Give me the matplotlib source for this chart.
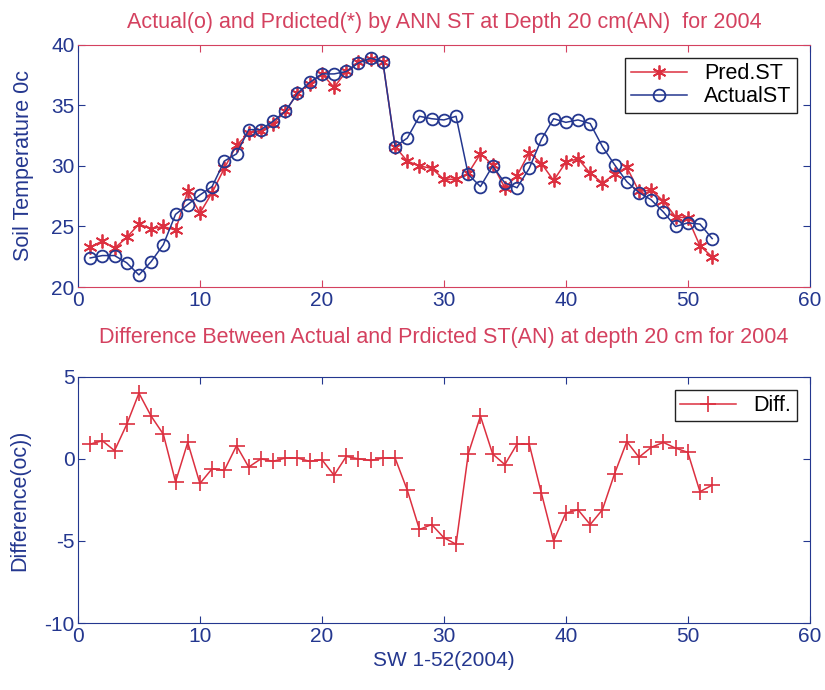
import numpy as np
import matplotlib
matplotlib.use("Agg")
import matplotlib.pyplot as plt

plt.rcParams['font.family'] = ['Liberation Sans', 'DejaVu Sans']
plt.rcParams['axes.unicode_minus'] = False

# standard weeks 1-52
weeks = np.arange(1, 53)

actual_st = [22.4, 22.6, 22.6, 22.0, 21.0, 22.1, 23.5, 26.0, 26.8, 27.6,
             28.3, 30.4, 31.0, 33.0, 33.0, 33.7, 34.5, 36.0, 36.9, 37.6,
             37.6, 37.8, 38.5, 38.9, 38.6, 31.6, 32.3, 34.1, 33.9, 33.8,
             34.1, 29.3, 28.3, 30.0, 28.6, 28.2, 29.8, 32.2, 33.9, 33.6,
             33.8, 33.5, 31.6, 30.1, 28.7, 27.8, 27.2, 26.2, 25.0, 25.3,
             25.2, 24.0]

pred_st = [23.3, 23.8, 23.2, 24.1, 25.2, 24.8, 25.0, 24.7, 27.9, 26.1,
           27.8, 29.8, 31.7, 32.7, 32.9, 33.5, 34.5, 36.0, 36.8, 37.6,
           36.5, 37.8, 38.6, 38.8, 38.6, 31.6, 30.4, 30.0, 29.8, 28.9,
           28.9, 29.4, 31.0, 30.1, 28.2, 29.2, 31.1, 30.2, 28.8, 30.3,
           30.6, 29.4, 28.6, 29.3, 29.9, 27.9, 28.0, 27.1, 25.8, 25.7,
           23.4, 22.5]

diff = [0.9, 1.1, 0.5, 2.1, 4.0, 2.6, 1.5, -1.4, 1.0, -1.5,
        -0.6, -0.7, 0.8, -0.5, 0.0, -0.15, 0.05, 0.05, -0.15, -0.05,
        -1.0, 0.15, 0.0, -0.1, 0.05, 0.05, -1.9, -4.3, -4.0, -4.8,
        -5.2, 0.3, 2.6, 0.3, -0.35, 0.9, 0.9, -2.1, -5.0, -3.3,
        -3.1, -4.0, -3.1, -0.9, 1.05, 0.1, 0.7, 1.0, 0.65, 0.4,
        -2.0, -1.6]

red = '#dc3040'
blue = '#24378f'
pink = '#d4415f'
asterisk = (6, 2, 0)

fig = plt.figure(figsize=(8.25, 6.9), dpi=100)

# ---- top: actual vs predicted
ax1 = fig.add_axes([0.0945, 0.584, 0.887, 0.351])
ax1.plot(weeks, pred_st, color=red, marker=asterisk, markersize=10, mew=1.3,
         lw=1.1, label='Pred.ST')
ax1.plot(weeks, actual_st, color=blue, marker='o', markersize=8.5, mfc='none',
         mew=1.3, lw=1.1, label='ActualST')
ax1.set_xlim(0, 60)
ax1.set_ylim(20, 40)
ax1.set_xticks(range(0, 61, 10))
ax1.set_yticks(range(20, 41, 5))
ax1.set_title('Actual(o) and Prdicted(*) by ANN ST at Depth 20 cm(AN)  for 2004',
              color=pink, fontsize=15.5, pad=12)
ax1.set_ylabel('Soil Temperature 0c', color=blue, fontsize=15.5, labelpad=12)
ax1.spines['top'].set_color(pink)
ax1.spines['bottom'].set_color(pink)
ax1.spines['left'].set_color(blue)
ax1.spines['right'].set_color(blue)
ax1.tick_params(axis='x', colors=pink, labelcolor=blue)
ax1.tick_params(axis='y', colors=blue, labelcolor=blue)
ax1.tick_params(direction='in', top=True, right=True, labelsize=15, length=5, pad=2.5)
leg1 = ax1.legend(loc='upper right', fontsize=15.5, fancybox=False, framealpha=1,
                  edgecolor='#222222', handlelength=2.6, borderpad=0.25,
                  labelspacing=0.1, borderaxespad=0.6)
leg1.get_frame().set_linewidth(1.0)

# ---- bottom: difference
ax2 = fig.add_axes([0.0945, 0.097, 0.887, 0.357])
ax2.plot(weeks, diff, color=red, marker='+', markersize=12, mew=1.2, lw=1.1, label='Diff.')
ax2.set_xlim(0, 60)
ax2.set_ylim(-10, 5)
ax2.set_xticks(range(0, 61, 10))
ax2.set_yticks([-10, -5, 0, 5])
ax2.set_title('Difference Between Actual and Prdicted ST(AN) at depth 20 cm for 2004',
              color=pink, fontsize=15.5, pad=24)
ax2.set_ylabel('Difference(oc))', color=blue, fontsize=15.5, labelpad=10)
ax2.set_xlabel('SW 1-52(2004)', color=blue, fontsize=15)
for s in ax2.spines.values():
    s.set_color(blue)
ax2.tick_params(colors=blue, labelcolor=blue, direction='in', top=True, right=True,
                labelsize=15, length=5, pad=2.5)
leg2 = ax2.legend(loc='upper right', fontsize=15.5, fancybox=False, framealpha=1,
                  edgecolor='#222222', handlelength=2.6, borderpad=0.25,
                  borderaxespad=0.6)
leg2.get_frame().set_linewidth(1.0)

fig.savefig('out.png', dpi=100)
